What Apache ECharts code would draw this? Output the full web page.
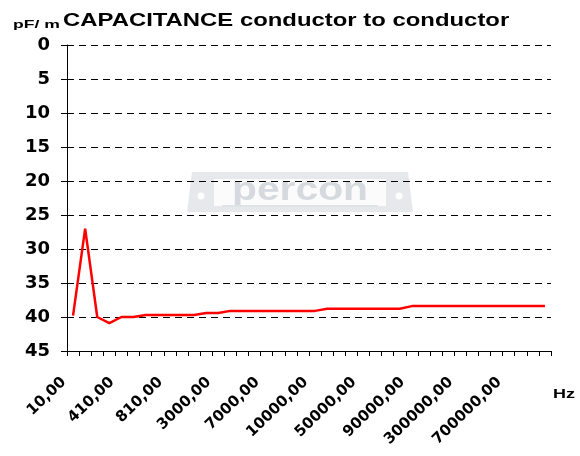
<!DOCTYPE html>
<html>
<head>
<meta charset="utf-8">
<script src="https://cdn.jsdelivr.net/npm/echarts@6/dist/echarts.min.js"></script>
<style>
html,body{margin:0;padding:0;background:#fff;}
#chart{width:580px;height:456px;}
</style>
</head>
<body>
<div id="chart"></div>
<script>
// Frequency categories (Hz)
var frequencies = [10, 110, 210, 310, 410, 510, 610, 710, 810, 910,
  1000, 2000, 3000, 4000, 5000, 6000, 7000, 8000, 9000, 9500,
  10000, 20000, 30000, 40000, 50000, 60000, 70000, 80000, 90000, 100000,
  200000, 250000, 300000, 400000, 500000, 600000, 700000, 800000, 900000, 1000000];
// Capacitance conductor to conductor (pF/m)
var capacitance = [39.8, 27.0, 40.0, 40.9, 40.0, 40.0, 39.7, 39.7, 39.7, 39.7,
  39.7, 39.4, 39.4, 39.1, 39.1, 39.1, 39.1, 39.1, 39.1, 39.1,
  39.1, 38.8, 38.8, 38.8, 38.8, 38.8, 38.8, 38.8, 38.4, 38.4,
  38.4, 38.4, 38.4, 38.4, 38.4, 38.4, 38.4, 38.4, 38.4, 38.4];
var yTicks = [0, 5, 10, 15, 20, 25, 30, 35, 40, 45];
var titleText = 'CAPACITANCE conductor to conductor';
var yUnit = 'pF/ m';
var xUnit = 'Hz';
var watermark = 'percon';

var chart = echarts.init(document.getElementById('chart'), null, {renderer: 'canvas'});
var labelFont = 'DejaVu Sans';
chart.setOption({
  backgroundColor: '#ffffff',
  animation: false,
  grid: {left: 67, right: 29, top: 45, bottom: 105, containLabel: false, outerBoundsMode: 'none'},
  xAxis: {
    type: 'category',
    data: frequencies,
    boundaryGap: true,
    axisLine: {onZero: false, lineStyle: {color: '#000', width: 1}},
    axisTick: {show: true, interval: 0, length: 5, lineStyle: {color: '#000'}},
    axisLabel: {
      interval: 3, rotate: 44, margin: 20, padding: [0, 13, 0, 0],
      fontFamily: labelFont, fontWeight: 'bold', fontSize: 15, color: '#000',
      formatter: function (v) { return v + ',00'; }
    },
    splitLine: {show: false}
  },
  yAxis: {
    type: 'value',
    inverse: true,
    min: yTicks[0], max: yTicks[yTicks.length - 1], interval: 5,
    axisLine: {show: true, lineStyle: {color: '#000', width: 1}},
    axisTick: {show: true, length: 6, lineStyle: {color: '#000'}},
    axisLabel: {margin: 17, fontFamily: labelFont, fontWeight: 'bold', fontSize: 18, color: '#000'},
    splitLine: {show: true, lineStyle: {color: '#000', width: 1, type: [7, 5]}}
  },
  graphic: [
    {
      type: 'group', z: -10, silent: true,
      children: [
        {type: 'polygon', z: -10, shape: {points: [[192, 172], [408, 172], [413, 212], [187, 212]]}, style: {fill: '#e6e8eb'}},
        {type: 'rect', z: -10, shape: {x: 214, y: 179, width: 172, height: 27}, style: {fill: '#fbfbfc'}},
        {type: 'circle', z: -10, shape: {cx: 201, cy: 196, r: 3.5}, style: {fill: '#ffffff'}},
        {type: 'circle', z: -10, shape: {cx: 399, cy: 196, r: 3.5}, style: {fill: '#ffffff'}},
        {type: 'text', z: -10, x: 300, y: 191, scaleX: 1.2, style: {text: watermark, font: 'bold 34px "Liberation Sans"', fill: '#d6d9de', align: 'center', verticalAlign: 'middle'}},
        {type: 'rect', z: -10, shape: {x: 222, y: 205, width: 156, height: 2}, style: {fill: '#e0e2e6'}}
      ]
    },
    {
      type: 'text', x: 63, y: 30, scaleX: 1.257,
      style: {text: titleText, font: 'bold 19px "Liberation Sans"', fill: '#000', align: 'left', verticalAlign: 'bottom'}
    },
    {
      type: 'text', x: 13, y: 30, scaleX: 1.6,
      style: {text: yUnit, font: 'bold 11px "Liberation Sans"', fill: '#000', align: 'left', verticalAlign: 'bottom'}
    },
    {
      type: 'text', x: 553, y: 395, scaleX: 1.5,
      style: {text: xUnit, font: 'bold 12px "Liberation Sans"', fill: '#000', align: 'left', verticalAlign: 'middle'}
    }
  ],
  series: [{
    type: 'line',
    data: capacitance,
    symbol: 'none',
    smooth: false,
    lineStyle: {color: '#ff0000', width: 2.5},
    z: 5
  }]
});
</script>
</body>
</html>
